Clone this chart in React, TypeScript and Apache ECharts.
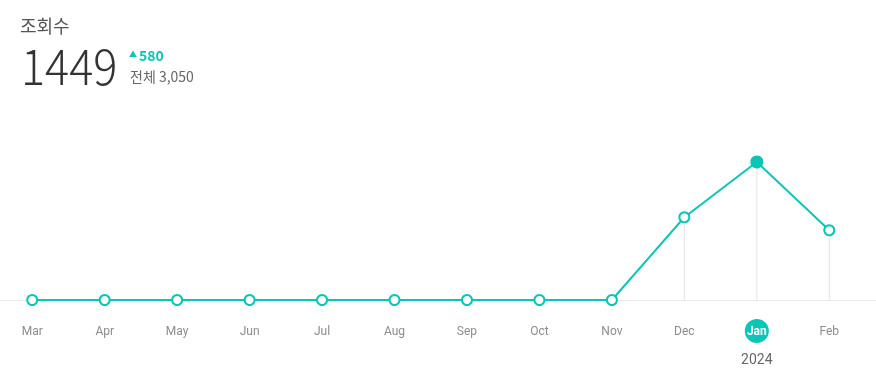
import React, { useEffect, useRef } from "react";
import * as echarts from "echarts";

const months = ["Mar", "Apr", "May", "Jun", "Jul", "Aug", "Sep", "Oct", "Nov", "Dec", "Jan", "Feb"];
const views = [0, 0, 0, 0, 0, 0, 0, 0, 0, 869, 1449, 732];
const highlightMonth = "Jan";
const yearLabel = "2024";
const titleText = "조회수";
const currentValue = "1449";
const changeValue = "580";
const totalText = "전체 3,050";

const TEAL = "#0bc5b7";
const SHIFT = 4; // chart div is shifted left by this many px

export default function App() {
  const ref = useRef<HTMLDivElement>(null);
  useEffect(() => {
    if (!ref.current) return;
    const chart = echarts.init(ref.current, undefined, { renderer: "svg" });
    const font = "'Noto Sans CJK KR', 'Noto Sans', sans-serif";
    chart.setOption({
      animation: false,
      grid: { left: 0, right: 10.5, top: 109.5, bottom: 83 },
      xAxis: {
        type: "category",
        data: months,
        boundaryGap: true,
        axisLine: { lineStyle: { color: "#e8e8e8", width: 1 } },
        axisTick: { show: false },
        splitLine: { show: false },
        axisLabel: {
          margin: 19,
          interval: 0,
          formatter: (v: string) =>
            v === highlightMonth ? `{hl|${v}}\n{yr|${yearLabel}}` : `{n|${v}}`,
          rich: {
            n: { fontSize: 12, color: "#8c8c8c", lineHeight: 24, fontFamily: "Roboto, sans-serif" },
            hl: {
              fontSize: 12,
              color: "#fff",
              fontWeight: "bold",
              backgroundColor: TEAL,
              borderRadius: 12,
              width: 24,
              height: 24,
              lineHeight: 24,
              align: "center",
              fontFamily: "Roboto, sans-serif",
            },
            yr: { fontSize: 14, color: "#666", lineHeight: 32, fontFamily: "Roboto, sans-serif" },
          },
        },
      },
      yAxis: { type: "value", min: 0, max: 2000, show: false, splitLine: { show: false } },
      series: [
        {
          type: "bar",
          data: views,
          barWidth: 1,
          itemStyle: { color: "#e3e3e3" },
          silent: true,
          z: 1,
        },
        {
          type: "line",
          data: views.map((v, i) =>
            months[i] === highlightMonth
              ? { value: v, symbolSize: 11, itemStyle: { color: TEAL, borderColor: TEAL } }
              : v
          ),
          symbol: "circle",
          symbolSize: 10,
          lineStyle: { color: TEAL, width: 2 },
          itemStyle: { color: "#fff", borderColor: TEAL, borderWidth: 2 },
          z: 3,
        },
      ],
      graphic: [
        { type: "rect", shape: { x: 860, y: 300, width: 30, height: 1 }, style: { fill: "#e8e8e8" }, z: 0 },
        { type: "text", left: 20 + SHIFT, top: 16, style: { text: titleText, fontSize: 18, fill: "#555", fontFamily: font } },
        {
          type: "text",
          x: 21 + SHIFT,
          y: 39,
          scaleX: 0.92,
          style: { text: currentValue, fontSize: 49, fill: "#333", fontFamily: font, fontWeight: 300 },
        },
        {
          type: "text",
          left: 129 + SHIFT,
          top: 48,
          style: {
            text: `{t|▲}{v|${changeValue}}`,
            rich: {
              t: { fontSize: 8, fill: TEAL, fontFamily: font, padding: [0, 2, 3, 0] },
              v: { fontSize: 14, fill: TEAL, fontWeight: "bold", fontFamily: font },
            },
          },
        },
        { type: "text", left: 130 + SHIFT, top: 69, style: { text: totalText, fontSize: 14, fill: "#666", fontFamily: font } },
      ],
    });
    return () => chart.dispose();
  }, []);
  return (
    <div
      ref={ref}
      style={{ position: "fixed", left: -SHIFT, top: 0, width: 876 + SHIFT, height: 383 }}
    />
  );
}
